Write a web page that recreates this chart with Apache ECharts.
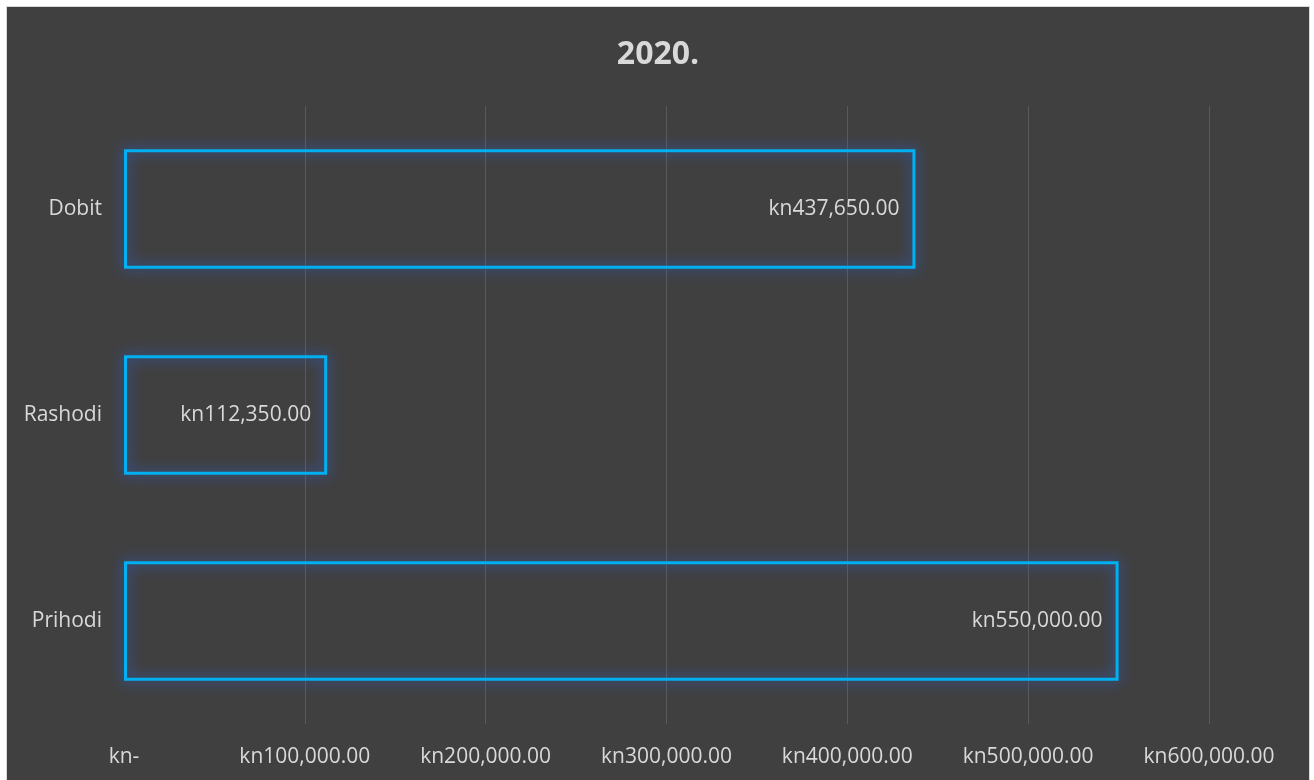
<!DOCTYPE html>
<html>
<head>
<meta charset="utf-8">
<script src="https://cdn.jsdelivr.net/npm/echarts@6/dist/echarts.min.js"></script>
<style>
html,body{margin:0;padding:0;background:#ffffff;width:1314px;height:780px;overflow:hidden;}
#frame{position:absolute;left:6px;top:6px;width:1302px;height:774px;border:1px solid #d9d9d9;border-bottom:none;background:#404040;}
#chart{width:1302px;height:774px;}
</style>
</head>
<body>
<div id="frame"><div id="chart"></div></div>
<script>
const titleText = '2020.';
const categories = ['Prihodi', 'Rashodi', 'Dobit'];
const values = [550000, 112350, 437650];
const axisMin = 0;
const axisMax = 600000;
const axisInterval = 100000;

function kn(v) {
  if (v === 0) return 'kn-';
  return 'kn' + v.toLocaleString('en-US', {minimumFractionDigits: 2, maximumFractionDigits: 2});
}

const FONT = 'Open Sans';
const chart = echarts.init(document.getElementById('chart'));
chart.setOption({
  backgroundColor: '#404040',
  animation: false,
  title: {
    text: titleText,
    left: 'center',
    top: 27,
    textStyle: {color: '#d9d9d9', fontSize: 32, fontWeight: 'bold', fontFamily: FONT}
  },
  grid: {left: 117, right: 100, top: 99, bottom: 57, containLabel: false},
  xAxis: {
    type: 'value',
    min: axisMin,
    max: axisMax,
    interval: axisInterval,
    axisLine: {show: false},
    axisTick: {show: false},
    splitLine: {show: true, showMinLine: false, lineStyle: {color: '#5a5a5a', width: 1}},
    axisLabel: {
      color: '#d9d9d9', fontSize: 21, fontFamily: FONT, margin: 23,
      formatter: kn
    }
  },
  yAxis: {
    type: 'category',
    data: categories,
    axisLine: {show: false},
    axisTick: {show: false},
    axisLabel: {color: '#d9d9d9', fontSize: 21, fontFamily: FONT, margin: 22}
  },
  series: [{
    type: 'bar',
    data: values,
    barWidth: '58%',
    itemStyle: {
      color: 'rgba(0,0,0,0)',
      borderColor: '#00b0f0',
      borderWidth: 3,
      shadowBlur: 14,
      shadowColor: 'rgba(45,100,225,1)'
    },
    label: {
      show: true,
      position: 'insideRight',
      distance: 16,
      color: '#d9d9d9',
      fontSize: 21,
      fontFamily: FONT,
      formatter: p => kn(p.value)
    }
  }]
});
</script>
</body>
</html>
